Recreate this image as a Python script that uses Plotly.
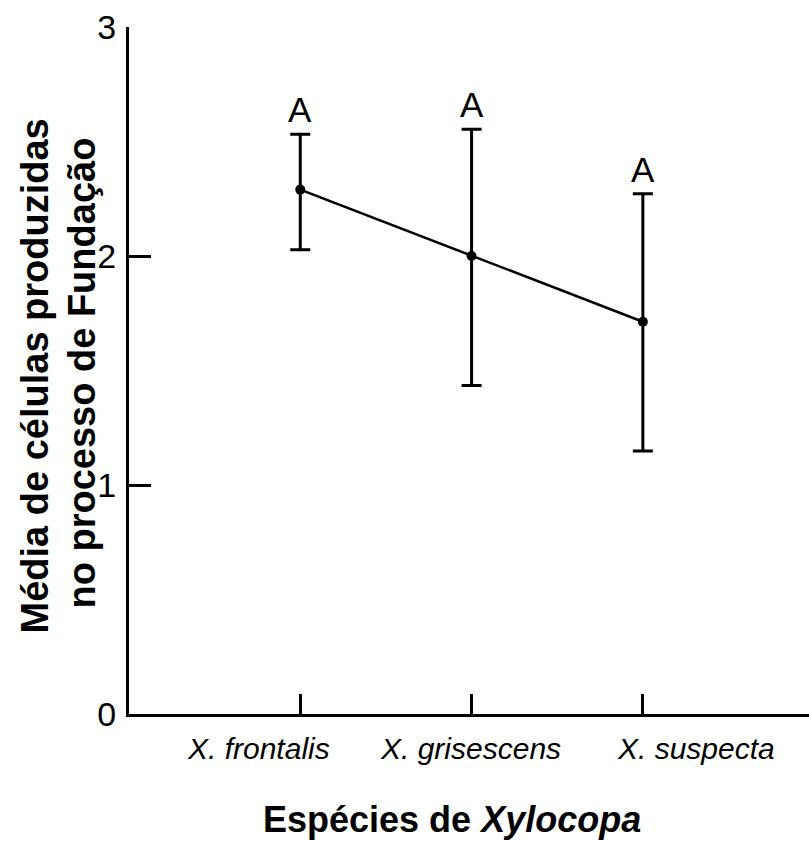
import plotly.graph_objects as go

species = ["X. frontalis", "X. grisescens", "X. suspecta"]
means = [2.29, 2.00, 1.713]
err_plus = [0.242, 0.553, 0.559]
err_minus = [0.263, 0.566, 0.565]
letters = ["A", "A", "A"]
y_ticks = [0, 1, 2, 3]

xpos = list(range(len(species)))
# horizontal offset (axis units) of each category label relative to its tick, as in the original
label_offsets = [-0.245, -0.005, 0.31]
FONT = "Liberation Sans, Arial, sans-serif"

fig = go.Figure()
fig.add_trace(go.Scatter(
    x=xpos, y=means, mode="lines+markers",
    line=dict(color="black", width=2.5),
    marker=dict(color="black", size=10),
    error_y=dict(type="data", symmetric=False, array=err_plus, arrayminus=err_minus,
                 color="black", thickness=3, width=10),
    showlegend=False,
))

annotations = []
for i, (m, e, l) in enumerate(zip(means, err_plus, letters)):
    annotations.append(dict(x=xpos[i], y=m + e, xref="x", yref="y", text=l,
                            showarrow=False, yanchor="bottom", yshift=3,
                            font=dict(family=FONT, size=35, color="black")))

for i, s in enumerate(species):
    annotations.append(dict(x=xpos[i] + label_offsets[i], y=0, xref="x", yref="paper",
                            text="<i>" + s + "</i>",
                            showarrow=False, xanchor="center", yanchor="middle", yshift=-34,
                            font=dict(family=FONT, size=30, color="black")))

annotations.append(dict(x=0, y=0.5, xref="paper", yref="paper",
                        text="<b>Média de células produzidas</b>", textangle=-90,
                        showarrow=False, xanchor="center", yanchor="middle", xshift=-95, yshift=-6,
                        font=dict(family=FONT, size=38, color="black")))
annotations.append(dict(x=0, y=0.5, xref="paper", yref="paper",
                        text="<b>no processo de Fundação</b>", textangle=-90,
                        showarrow=False, xanchor="center", yanchor="middle", xshift=-48, yshift=-3,
                        font=dict(family=FONT, size=38, color="black")))
annotations.append(dict(x=(452 - 129) / 680, y=0, xref="paper", yref="paper",
                        text="<b>Espécies de <i>Xylocopa</i></b>",
                        showarrow=False, xanchor="center", yanchor="middle", yshift=-105,
                        font=dict(family=FONT, size=36, color="black")))

fig.update_layout(
    width=809, height=841,
    margin=dict(l=129, r=0, t=27, b=127, pad=0),
    plot_bgcolor="white", paper_bgcolor="white",
    annotations=annotations,
    xaxis=dict(
        range=[-1, 2.97], tickmode="array", tickvals=xpos,
        showticklabels=False,
        ticks="inside", ticklen=20, tickwidth=3, tickcolor="black",
        showline=True, linecolor="black", linewidth=3,
        showgrid=False, zeroline=False, automargin=False,
    ),
    yaxis=dict(
        range=[0, 3], tickmode="array", tickvals=y_ticks,
        ticks="inside", ticklen=22, tickwidth=3, tickcolor="black",
        showline=True, linecolor="black", linewidth=3,
        showgrid=False, zeroline=False, automargin=False,
        tickfont=dict(family=FONT, size=34, color="black"),
        ticklabelstandoff=3,
    ),
)

fig.write_html("out.html")
